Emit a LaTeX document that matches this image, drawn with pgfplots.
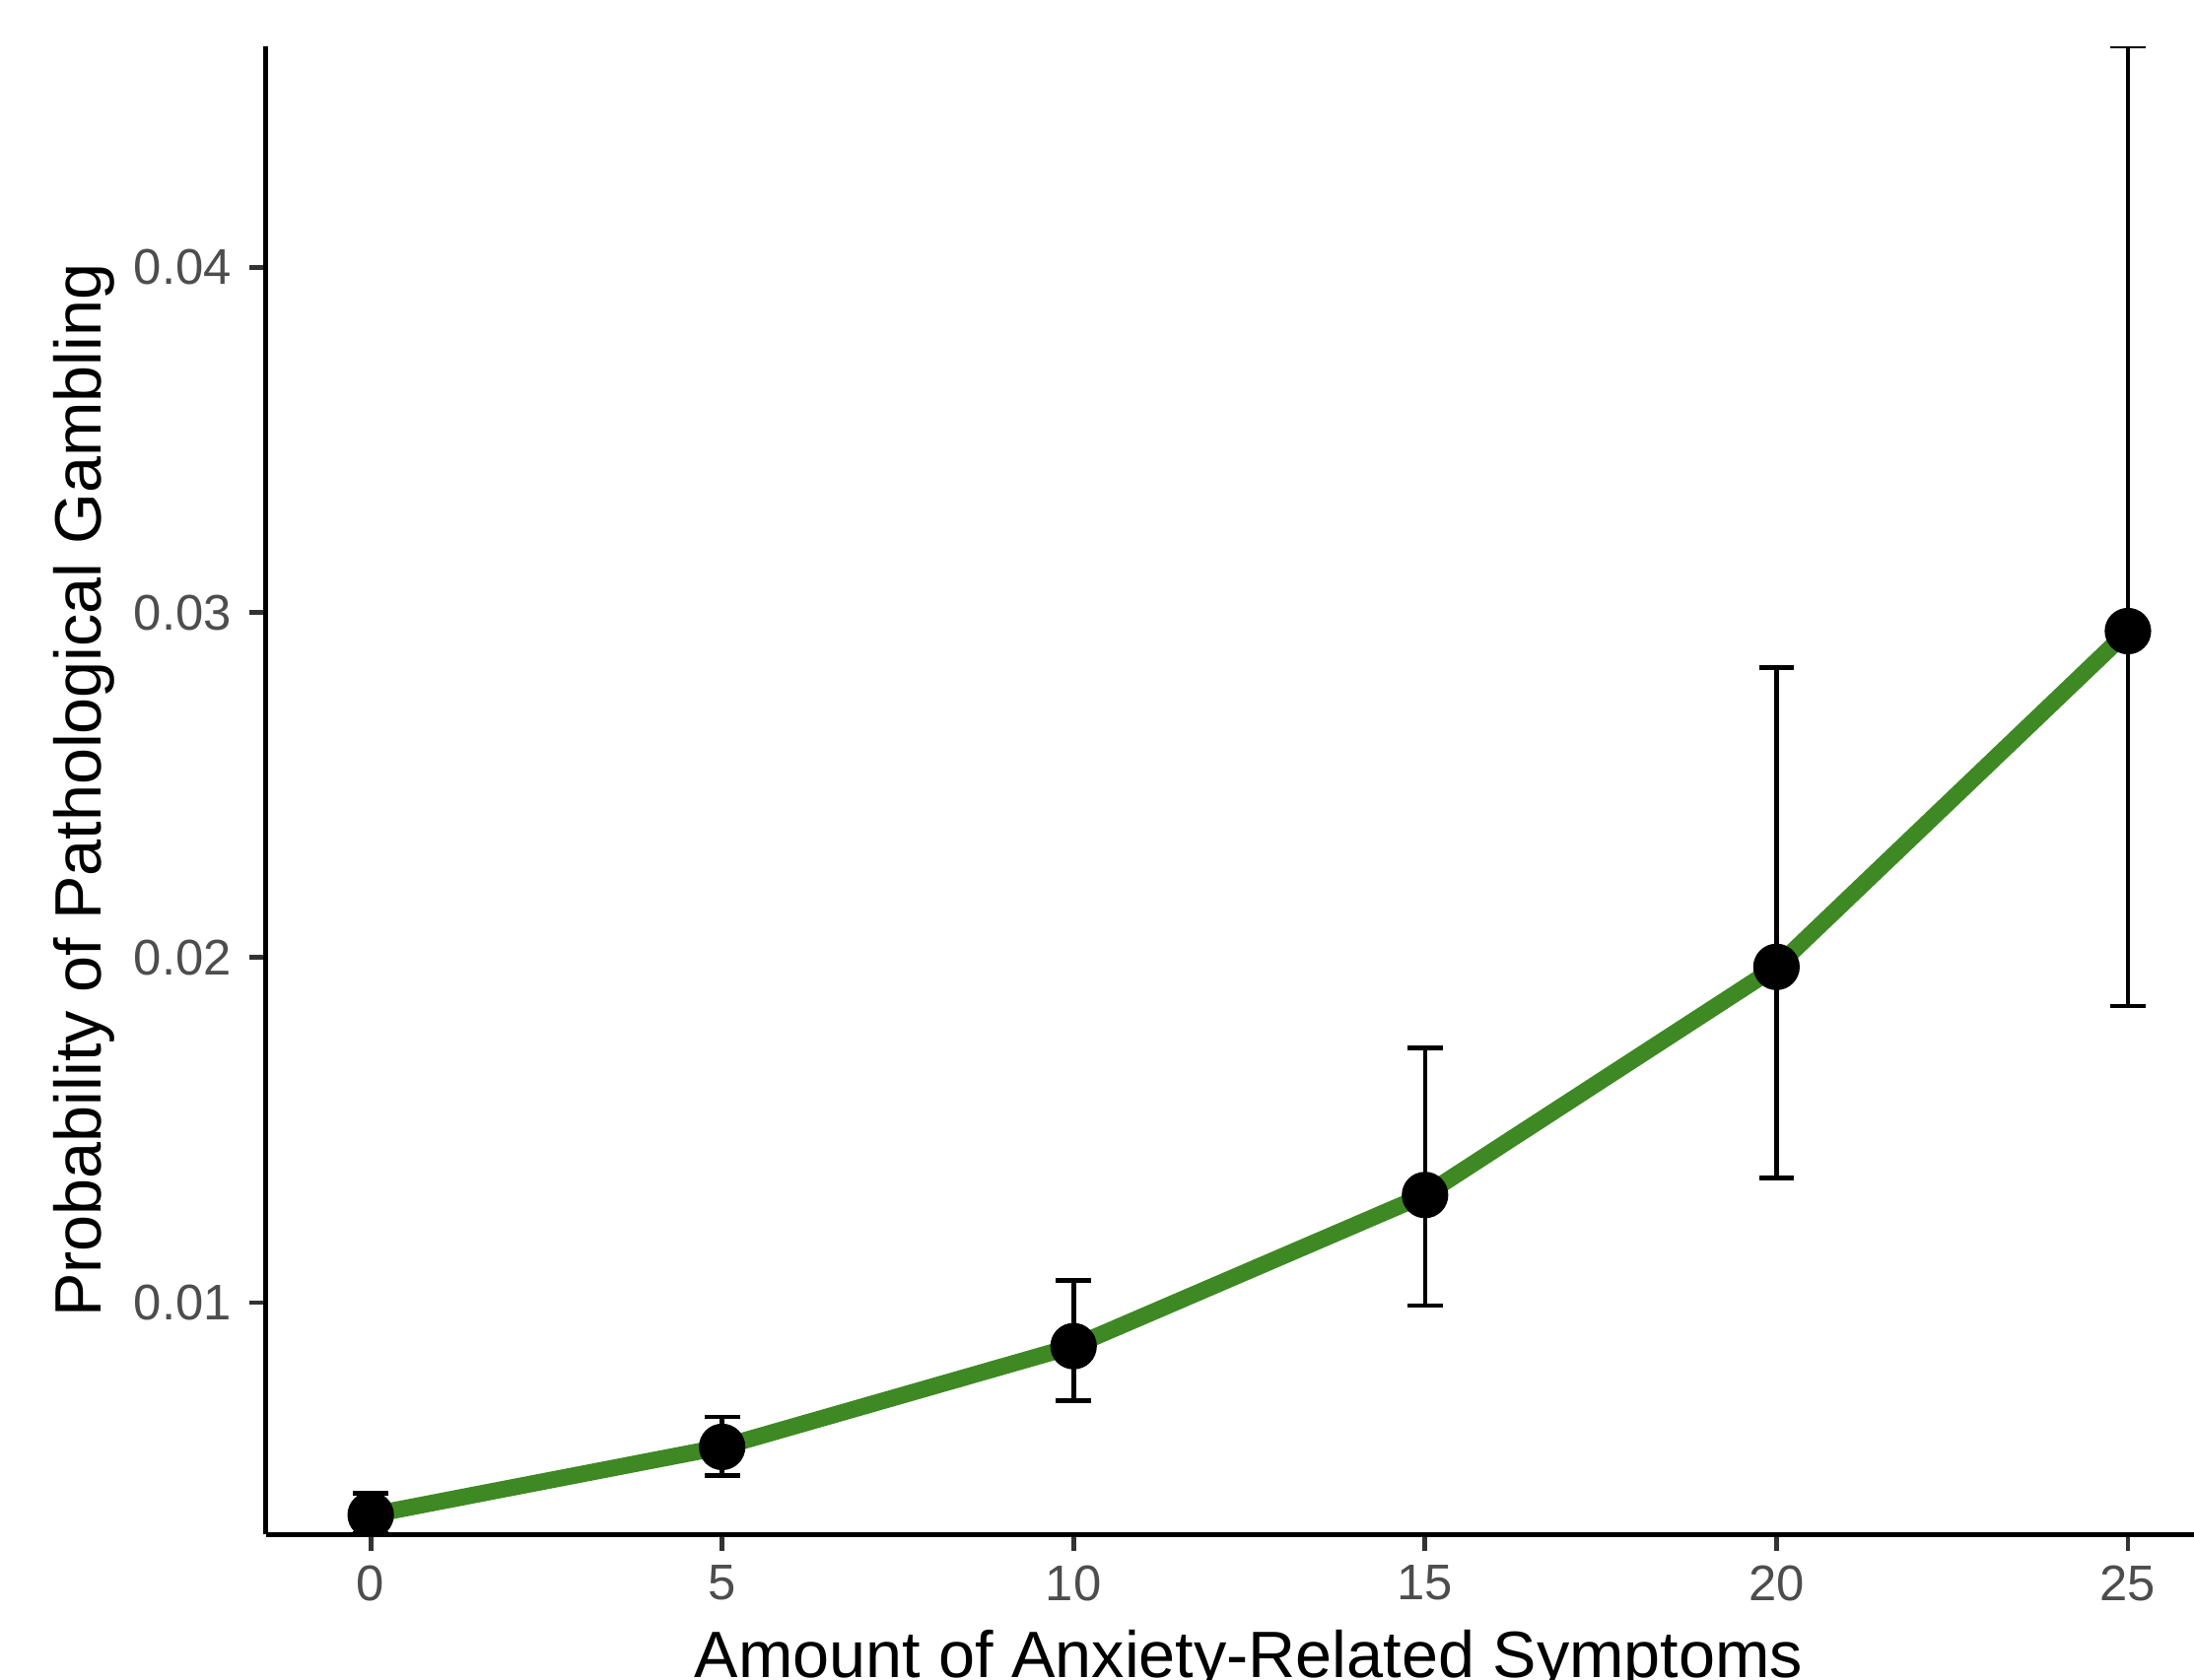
\documentclass[border=0pt]{standalone}
\usepackage{fontspec}
\setmainfont{Liberation Sans}
\usepackage{pgfplots}
\usepackage{pgfplotstable}
\pgfplotsset{compat=1.18}
\definecolor{lgreen}{RGB}{62,137,35}
\definecolor{tickgray}{RGB}{77,77,77}
\definecolor{tickline}{RGB}{51,51,51}
\pgfplotstableread{
x y ep em
0 0.00385 0.00063 0.00055
5 0.00582 0.00087 0.00083
10 0.00874 0.00191 0.00158
15 0.01312 0.00426 0.00320
20 0.01973 0.00867 0.00612
25 0.02946 0.01694 0.01086
}\data
\begin{document}
\begin{tikzpicture}
\begin{axis}[
  at={(0,0)}, anchor=south west,
  scale only axis, width=323.3pt, height=249.6pt,
  xmin=-1.49, xmax=25.94, ymin=0.00328, ymax=0.0464,
  axis x line*=bottom, axis y line*=left,
  axis line style={-, black, line width=0.8pt},
  xtick={0,5,10,15,20,25},
  ytick={0.01,0.02,0.03,0.04},
  yticklabels={0.01,0.02,0.03,0.04},
  scaled y ticks=false,
  tick align=outside, major tick length=2.75pt,
  tick style={tickline, line width=0.8pt},
  ticklabel style={font=\fontsize{8.4}{10}\selectfont, text=tickgray},
  xticklabel style={yshift=1.1pt},
  yticklabel style={xshift=0.5pt},
  /pgf/number format/assume math mode=true,
  xlabel={Amount of Anxiety-Related Symptoms},
  ylabel={Probability of Pathological Gambling},
  xlabel style={font=\fontsize{11}{13}\selectfont, at={(axis description cs:0.5097,-0.0960)}, anchor=base},
  ylabel style={font=\fontsize{11}{13}\selectfont, at={(axis description cs:-0.0854,0.5)}, anchor=base},
  clip marker paths=true,
]
\addplot[lgreen, line width=2.8pt, no markers] table[x=x, y=y] {\data};
\addplot[black, only marks, mark=none,
  error bars/.cd, y dir=both, y explicit,
  error bar style={line width=0.75pt, black},
  error mark options={rotate=90, mark size=2.95pt, line width=0.75pt, black}]
  table[x=x, y=y, y error plus=ep, y error minus=em] {\data};
\addplot[only marks, mark=*, mark size=3.7pt, mark options={fill=black, draw=black}] table[x=x, y=y] {\data};
\end{axis}
\pgfresetboundingbox
\path (-44.6pt,-24.3pt) rectangle (323.3pt,257.4pt);
\end{tikzpicture}
\end{document}
